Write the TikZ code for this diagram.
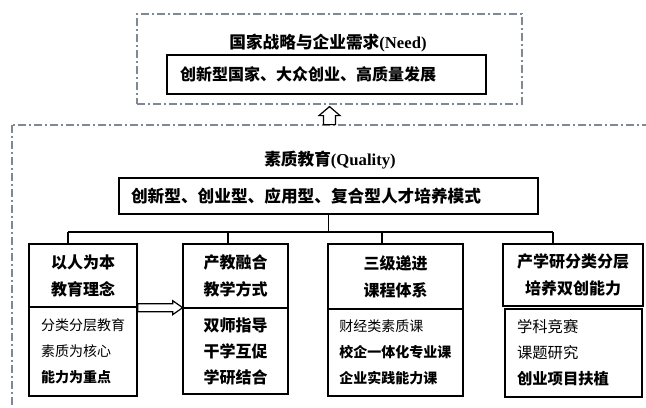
\documentclass[tikz,border=0pt]{standalone}
\usepackage{fontspec}
\setmainfont{Liberation Serif}
\newfontfamily\cjk{Noto Sans CJK SC}
\definecolor{dashgray}{RGB}{128,136,148}
\begin{document}
\begin{tikzpicture}[x=0.75pt,y=-0.75pt,
    box/.style={draw, line width=1pt, inner sep=0pt, align=center},
    lbox/.style={box, align=left},
    dashbox/.style={draw=dashgray, line width=0.9pt, dash pattern=on 6pt off 2.25pt on 1.5pt off 2.25pt},
    head/.style={font=\cjk\bfseries\fontsize{12pt}{20.25pt}\selectfont},
    low/.style={font=\cjk\fontsize{10.5pt}{19.5pt}\selectfont},
    tree/.style={draw, line width=0.9pt},
    hollow/.style={draw, line width=0.9pt, fill=white}] % ------ Need / Quality ------
    \useasboundingbox (0,0) rectangle (646,407);
    \clip (0,0) rectangle (646,407);
    \node [dashbox, minimum width=288.75pt, minimum height=67.5pt] (need) at (329.5,59) {};
    \node [font=\fontsize{12.5pt}{15pt}\selectfont] (needtitle) at (328,43)
        {{\cjk\bfseries 国家战略与企业需求}\textbf{(Need)}};
    \node [lbox, head, text width=219.75pt, inner xsep=9.75pt, minimum height=29.25pt] (needbox) at (326.5,74.5)
        {创新型国家、大众创业、高质量发展};
    \draw [dashbox] (12,125) rectangle (680,440);
    \draw [hollow] (need.south) ++(0,2) -- ++(10.5,9) -- ++(-4.5,0) -- ++(0,9) -- ++(-12,0) -- ++(0,-9) -- ++(-4.5,0) -- cycle;
    \node [font=\fontsize{12.5pt}{15pt}\selectfont] (qualtitle) at (330,160)
        {{\cjk\bfseries 素质教育}\textbf{(Quality)}};
    \node [lbox, font=\cjk\bfseries\fontsize{12.5pt}{15pt}\selectfont, text width=296.25pt, inner xsep=9pt, minimum height=27pt] (mode) at (328.5,196)
        {创新型、创业型、应用型、复合型人才培养模式};
    % les quatre colonnes
    \node [box, head, minimum width=81pt, minimum height=47.25pt] (top1) at (83,275.5) {以人为本\\教育理念};
    \node [lbox, low, text width=63pt, inner xsep=9pt, minimum height=66.75pt] (low1) at (83,351.5)
        {分类分层教育\\素质为核心\\{\bfseries 能力为重点}};
    \node [box, head, minimum width=78.75pt, minimum height=48pt] (top2) at (235.5,276) {产教融合\\教学方式};
    \node [box, font=\cjk\bfseries\fontsize{12pt}{19.5pt}\selectfont, minimum width=78.75pt, minimum height=64.5pt] (low2) at (235.5,351)
        {双师指导\\干学互促\\学研结合};
    \node [box, head, minimum width=101.25pt, minimum height=48.75pt] (top3) at (395.5,276.5) {三级递进\\课程体系};
    \node [lbox, low, text width=84.25pt, inner xsep=8.5pt, minimum height=65.25pt] (low3) at (395.5,352.5)
        {财经类素质课\\{\bfseries 校企一体化专业课}\\{\bfseries 企业实践能力课}};
    \node [box, head, minimum width=105pt, minimum height=46.5pt] (top4) at (573,275) {产学研分类分层\\培养双创能力};
    \node [lbox, font=\cjk\fontsize{11.5pt}{19.5pt}\selectfont, text width=84.75pt, inner xsep=9pt, minimum height=66pt] (low4) at (573.5,353)
        {学科竞赛\\课题研究\\{\bfseries 创业项目扶植}};
    \coordinate (j1) at (68,232);
    \coordinate (j2) at (228,232);
    \coordinate (j3) at (382,232);
    \coordinate (j4) at (553,232);
    \draw [tree] (mode.south) -- (mode.south |- j1);
    \draw [tree] (j1) -- (j4);
    \foreach \i in {1,...,4} \draw [tree] (j\i) -- (j\i |- top\i.north);
    \draw [hollow] (top1.south east) ++(0,-4) -- ++(35,0) -- ++(0,-3) -- ++(10,7) -- ++(-10,7) -- ++(0,-3) -- ++(-35,0) -- cycle;
\end{tikzpicture}
\end{document}
